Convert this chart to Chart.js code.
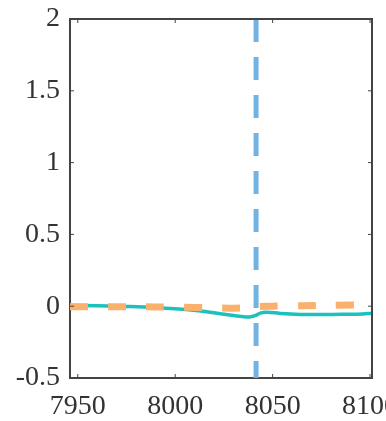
<!DOCTYPE html>
<html>
<head>
<meta charset="utf-8">
<script src="https://cdn.jsdelivr.net/npm/chart.js@4"></script>
<style>
  html, body { margin: 0; padding: 0; background: #fff; overflow: hidden; }
  #wrap { width: 420px; height: 421px; }
</style>
</head>
<body>
<div id="wrap"><canvas id="myChart" width="420" height="421"></canvas></div>
<script>
// x range and ticks
var xMin = 7946;
var xMax = 8101;
var xTicks = [7950, 8000, 8050, 8100];
var yTicks = [-0.5, 0, 0.5, 1, 1.5, 2];
var yTickLabels = ['-0.5', '0', '0.5', '1', '1.5', '2'];

// solid signal
var signalX = [7946, 7960, 7975, 7990, 8004, 8012, 8020, 8028, 8034, 8038, 8041, 8044, 8047, 8054, 8064, 8072, 8081, 8090, 8096, 8101];
var signalY = [0.005, 0.004, -0.002, -0.01, -0.021, -0.031, -0.046, -0.061, -0.071, -0.075, -0.066, -0.046, -0.042, -0.05, -0.057, -0.058, -0.057, -0.056, -0.054, -0.05];

// dashed reference
var refX = [7946, 7970, 7990, 8005, 8015, 8028, 8038, 8043, 8050, 8065, 8080, 8101];
var refY = [-0.004, -0.004, -0.005, -0.007, -0.01, -0.014, -0.01, -0.002, 0.0, 0.004, 0.007, 0.009];

// vertical marker
var markerX = 8041.5;

function pts(xs, ys) {
    return xs.map(function (x, i) { return {x: x, y: ys[i]}; });
}

// box outline plus small inward ticks
var boxPlugin = {
    id: 'box',
    afterDraw: function (chart) {
        var c = chart.ctx, a = chart.chartArea;
        var xs = chart.scales.x, ys = chart.scales.y;
        c.save();
        c.strokeStyle = '#444';
        c.lineWidth = 2;
        c.beginPath();
        c.moveTo(a.left, a.top);
        c.lineTo(a.right, a.top);
        c.lineTo(a.right, a.bottom);
        c.stroke();
        c.lineWidth = 1;
        c.beginPath();
        xTicks.forEach(function (t) {
            var px = xs.getPixelForValue(t);
            if (px < a.left || px > a.right) return;
            c.moveTo(px, a.bottom); c.lineTo(px, a.bottom - 4);
            c.moveTo(px, a.top); c.lineTo(px, a.top + 4);
        });
        yTicks.forEach(function (t) {
            var py = ys.getPixelForValue(t);
            c.moveTo(a.left, py); c.lineTo(a.left + 4, py);
            c.moveTo(a.right, py); c.lineTo(a.right - 4, py);
        });
        c.stroke();
        c.restore();
    }
};

var ctx = document.getElementById('myChart').getContext('2d');

var chart = new Chart(ctx, {
    type: 'line',
    data: {
        datasets: [{
            data: pts(refX, refY),
            borderColor: '#f9b16d',
            borderWidth: 7,
            borderDash: [18, 20],
            borderCapStyle: 'butt',
            pointRadius: 0,
            tension: 0.3
        }, {
            data: pts(signalX, signalY),
            borderColor: '#1cc1bf',
            borderWidth: 3.5,
            pointRadius: 0,
            tension: 0.4
        }, {
            data: [{x: markerX, y: 2}, {x: markerX, y: -0.5}],
            borderColor: '#72b3e2',
            borderWidth: 5,
            borderDash: [23, 15],
            borderCapStyle: 'butt',
            pointRadius: 0
        }]
    },
    plugins: [boxPlugin],
    options: {
        responsive: false,
        animation: false,
        layout: {
            padding: {top: 19, right: 48, left: 0, bottom: 0}
        },
        plugins: {
            legend: { display: false },
            tooltip: { enabled: false }
        },
        scales: {
            x: {
                type: 'linear',
                min: xMin,
                max: xMax,
                afterBuildTicks: function (scale) {
                    scale.ticks = xTicks.map(function (v) { return {value: v}; });
                },
                afterFit: function (scale) {
                    scale.height = 43;
                    scale.paddingLeft = 0;
                    scale.paddingRight = 0;
                },
                grid: { display: false, drawTicks: false },
                border: { display: true, color: '#444', width: 2 },
                ticks: {
                    autoSkip: false,
                    maxRotation: 0,
                    padding: 12,
                    color: '#333',
                    font: { family: 'Liberation Serif', size: 28 },
                    callback: function (v) { return String(v); }
                }
            },
            y: {
                min: -0.5,
                max: 2,
                afterBuildTicks: function (scale) {
                    scale.ticks = yTicks.map(function (v) { return {value: v}; });
                },
                afterFit: function (scale) {
                    scale.width = 70;
                    scale.paddingTop = 0;
                    scale.paddingBottom = 0;
                },
                grid: { display: false, drawTicks: false },
                border: { display: true, color: '#444', width: 2 },
                ticks: {
                    padding: 10,
                    color: '#333',
                    font: { family: 'Liberation Serif', size: 28 },
                    callback: function (v) {
                        var i = yTicks.indexOf(v);
                        return i >= 0 ? yTickLabels[i] : '';
                    }
                }
            }
        }
    }
});
</script>
</body>
</html>
